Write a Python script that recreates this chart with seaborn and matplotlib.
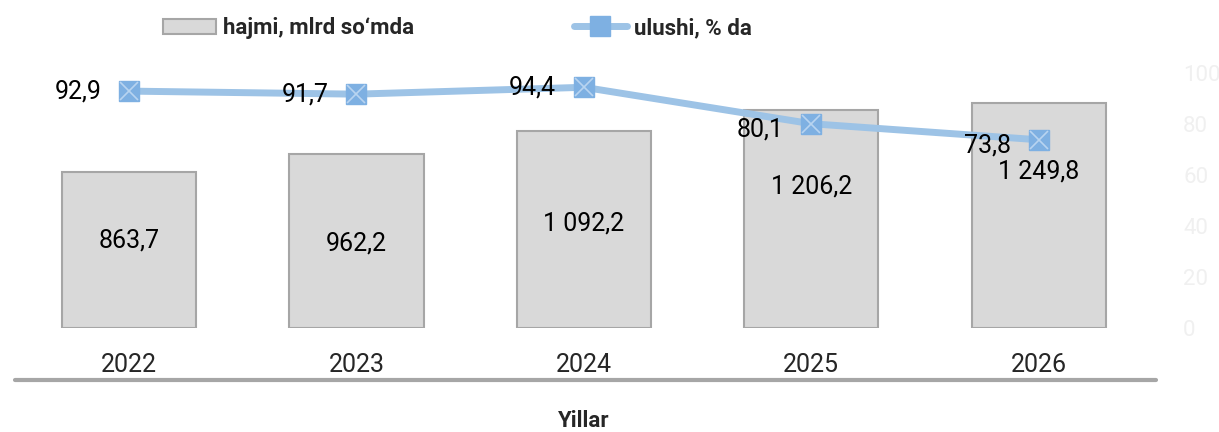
import matplotlib.pyplot as plt
import numpy as np
import pandas as pd
import seaborn as sns
from matplotlib.lines import Line2D
from matplotlib.patches import Patch

years = ["2022", "2023", "2024", "2025", "2026"]
hajmi = [863.7, 962.2, 1092.2, 1206.2, 1249.8]
ulushi = [92.9, 91.7, 94.4, 80.1, 73.8]

# where the bar labels sit, as a share of bar height
bar_label_pos = [0.56, 0.485, 0.53, 0.65, 0.695]

sns.set_theme(style="white")
plt.rcParams["font.family"] = ["Roboto", "DejaVu Sans"]

BAR_FACE = "#D9D9D9"
BAR_EDGE = "#A6A6A6"
LINE_COL = "#9DC3E6"
MARK_COL = "#7EB0E2"


def fmt(v):
    s = f"{v:,.1f}".replace(",", " ").replace(".", ",")
    return s


df = pd.DataFrame({"year": years, "hajmi": hajmi, "ulushi": ulushi})

fig = plt.figure(figsize=(12.19, 4.32), dpi=100)
ax = fig.add_axes([0.0125, 0.241, 0.933, 0.59])

sns.barplot(data=df, x="year", y="hajmi", ax=ax, color=BAR_FACE, width=0.59,
            edgecolor=BAR_EDGE, linewidth=1.5, saturation=1)
ax.set_ylim(0, 1414)
ax.set_xlim(-0.5, 4.5)
for i, (v, f) in enumerate(zip(hajmi, bar_label_pos)):
    ax.text(i, v * f, fmt(v), ha="center", va="center", fontsize=18, color="black")

ax.set_yticks([])
ax.set_ylabel("")
ax.set_xlabel("Yillar", fontsize=16, fontweight="bold", labelpad=24)
ax.tick_params(axis="x", labelsize=18, length=0, pad=18)
for s in ax.spines.values():
    s.set_visible(False)
ax.plot([0.0, 1.003], [-0.205, -0.205], transform=ax.transAxes, color="#A6A6A6",
        lw=3, clip_on=False)

ax2 = ax.twinx()
x = np.arange(len(years))
ax2.plot(x, ulushi, color=LINE_COL, lw=5, solid_capstyle="round", zorder=3)
ax2.plot(x, ulushi, ls="none", marker="s", ms=15, mfc=MARK_COL, mec=MARK_COL, zorder=4)
ax2.plot(x, ulushi, ls="none", marker="x", ms=13, mew=1.2, mec="#B8D4F0", zorder=5)
ax2.set_ylim(0, 100)
ax2.set_yticks([0, 20, 40, 60, 80, 100])
ax2.tick_params(axis="y", labelsize=16, labelcolor="#F0F0F0", length=0, pad=22)
for s in ax2.spines.values():
    s.set_visible(False)
for i, v in enumerate(ulushi):
    dy = -4 if v < 85 else 0
    ax2.annotate(fmt(v), (i, v), xytext=(-20, dy), textcoords="offset points",
                 ha="right", va="center", fontsize=18, color="black")

handles = [
    Patch(facecolor=BAR_FACE, edgecolor=BAR_EDGE, linewidth=1.5),
    Line2D([], [], color=LINE_COL, lw=5, marker="s", ms=15, mfc=MARK_COL,
           mec=MARK_COL, solid_capstyle="round"),
]
leg = fig.legend(handles, ["hajmi, mlrd so‘mda", "ulushi, % da"], loc="center",
                 bbox_to_anchor=(0.375, 0.935), ncol=2, frameon=False,
                 prop={"size": 16, "weight": "bold"}, columnspacing=7.2,
                 handlelength=2.4, handletextpad=0.3)

fig.savefig("out.png", dpi=100)
